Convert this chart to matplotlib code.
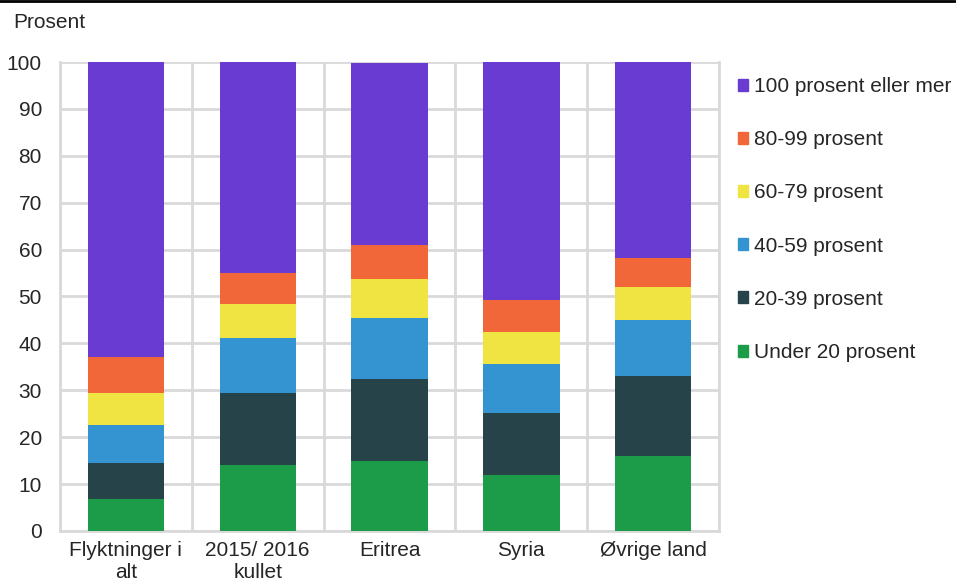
import matplotlib.pyplot as plt
import numpy as np
from matplotlib.lines import Line2D
from matplotlib.patches import Patch

plt.rcParams['font.family'] = ['Liberation Sans', 'DejaVu Sans']

# Categories and stacked shares (cumulative tops, converted to segments)
categories = ["Flyktninger i\nalt", "2015/ 2016\nkullet", "Eritrea", "Syria", "Øvrige land"]
series_names = ["Under 20 prosent", "20-39 prosent", "40-59 prosent",
                "60-79 prosent", "80-99 prosent", "100 prosent eller mer"]
under_20 = [6.8, 14.1, 14.9, 12.0, 15.9]
p20_39 = [7.6, 15.4, 17.5, 13.1, 17.1]
p40_59 = [8.1, 11.6, 13.0, 10.4, 12.0]
p60_79 = [6.9, 7.2, 8.3, 6.9, 7.0]
p80_99 = [7.8, 6.7, 7.3, 6.9, 6.2]
p100 = [62.8, 45.0, 38.8, 50.7, 41.8]
colors = ["#1c9c48", "#27434a", "#3494d1", "#f0e442", "#f26739", "#6a3bd2"]

series = [under_20, p20_39, p40_59, p60_79, p80_99, p100]

fig = plt.figure(figsize=(9.56, 5.80), dpi=100)
ax = fig.add_axes([0.0628, 0.0845, 0.6893, 0.8086])

x = np.arange(len(categories))
bottom = np.zeros(len(categories))
for vals, col, name in zip(series, colors, series_names):
    ax.bar(x, vals, bottom=bottom, width=0.58, color=col, label=name, zorder=3)
    bottom += np.array(vals)

grid_col = "#d9d9d9"
ax.set_xlim(-0.5, len(categories) - 0.5)
ax.set_ylim(0, 100)
ax.set_yticks(range(0, 101, 10))
ax.set_xticks(x)
ax.set_xticklabels(categories)
ax.set_xticks(np.arange(-0.5, len(categories)), minor=True)
ax.grid(which="minor", axis="x", color=grid_col, lw=2, zorder=0)
ax.grid(which="major", axis="y", color=grid_col, lw=2, zorder=0)
ax.tick_params(which="both", length=0, labelsize=15, colors="#262626")
ax.tick_params(axis="y", pad=13)
ax.tick_params(axis="x", pad=7)
for s in ax.spines.values():
    s.set_color(grid_col)
    s.set_linewidth(2)
    s.set_zorder(1)
ax.spines["top"].set_visible(False)

fig.text(0.014, 0.962, "Prosent", fontsize=15, color="#262626", va="center")

# black rule across the top
fig.add_artist(Line2D([0, 1], [0.998, 0.998], color="black", lw=2, transform=fig.transFigure))

handles = [Patch(color=c) for c in colors[::-1]]
fig.legend(handles, series_names[::-1], loc="upper left", bbox_to_anchor=(0.772, 0.867),
           frameon=False, fontsize=15, labelspacing=1.64, handlelength=0.5,
           handleheight=0.5, handletextpad=0.25, borderaxespad=0, borderpad=0,
           labelcolor="#262626")

fig.savefig("out.png", dpi=100)
